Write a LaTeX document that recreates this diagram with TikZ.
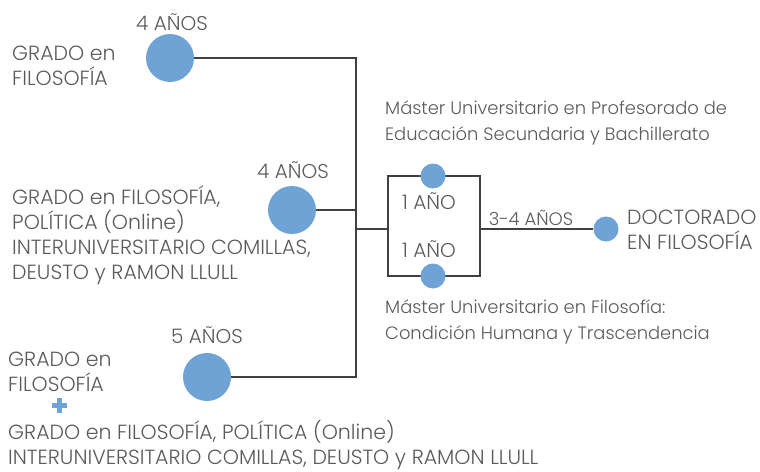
\documentclass[tikz,border=0pt]{standalone}
\usepackage{fontspec}
\setmainfont{Poppins Light}
\definecolor{dotblue}{RGB}{111,163,214}
\definecolor{linegray}{RGB}{64,64,64}
\definecolor{txtgray}{RGB}{90,90,90}
\begin{document}
\begin{tikzpicture}[x=1pt,y=-1pt,
  dot/.style={circle,fill=dotblue,inner sep=0pt,minimum size=#1},
  conn/.style={draw=linegray,line width=2.6pt},
  lbl/.style={text=txtgray,inner sep=0pt,font=\fontsize{20.5}{25}\selectfont,align=left},
  mlbl/.style={text=txtgray,inner sep=0pt,font=\fontsize{17.9}{26}\selectfont,align=left},
  clbl/.style={text=txtgray,inner sep=0pt,font=\fontsize{20}{25}\selectfont,align=center}]
\useasboundingbox (0,0) rectangle (760,471);
% circles
\node[dot=48pt] (c1) at (170,58) {};
\node[dot=48pt] (c2) at (292,210) {};
\node[dot=48pt] (c3) at (207,377) {};
\coordinate (j1) at (356,58);
\coordinate (j2) at (356,229);
\coordinate (j3) at (356,377);
\node[draw=linegray,line width=2.6pt,minimum width=92pt,minimum height=100pt,inner sep=0pt] (box) at (434,226) {};
\node[dot=25pt] (m1) at (433,176) {};
\node[dot=25pt] (m2) at (433,276) {};
\node[dot=25pt] (d) at (606,229) {};
% connectors
\draw[conn] (c1.east) -- (j1) -- (j3) -- (c3.east);
\draw[conn] (c2.east) -- (c2 -| j1);
\draw[conn] (j2) -- (j2 -| box.west);
\draw[conn] (box.east |- d) -- (d.west);
% plus sign
\fill[dotblue] (52,403) rectangle (67,408);
\fill[dotblue] (57,398) rectangle (62,413);
% labels
\node[clbl] (t1) at (172,22) {4 AÑOS};
\node[clbl] (t2) at (293,170) {4 AÑOS};
\node[clbl] (t3) at (207,335) {5 AÑOS};
\node[lbl,anchor=west] (g1) at (12,66) {GRADO en\\FILOSOFÍA};
\node[lbl,anchor=west] (g2) at (12,235) {GRADO en FILOSOFÍA,\\POLÍTICA (Online)\\INTERUNIVERSITARIO COMILLAS,\\DEUSTO y RAMON LLULL};
\node[lbl,anchor=west] (g3) at (8,372) {GRADO en\\FILOSOFÍA};
\node[lbl,anchor=west] (g4) at (8,445) {GRADO en FILOSOFÍA, POLÍTICA (Online)\\INTERUNIVERSITARIO COMILLAS, DEUSTO y RAMON LLULL};
\node[mlbl,anchor=west] (ms1) at (385,123) {Máster Universitario en Profesorado de\\Educación Secundaria y Bachillerato};
\node[mlbl,anchor=west] (ms2) at (385,322) {Máster Universitario en Filosofía:\\Condición Humana y Trascendencia};
\node[clbl] (a1) at (429,201) {1 AÑO};
\node[clbl] (a2) at (429,249) {1 AÑO};
\node[clbl,font=\fontsize{18}{25}\selectfont] (a3) at (531,218) {3-4 AÑOS};
\node[lbl,anchor=west] (doc) at (627,230) {DOCTORADO\\EN FILOSOFÍA};
\end{tikzpicture}
\end{document}
